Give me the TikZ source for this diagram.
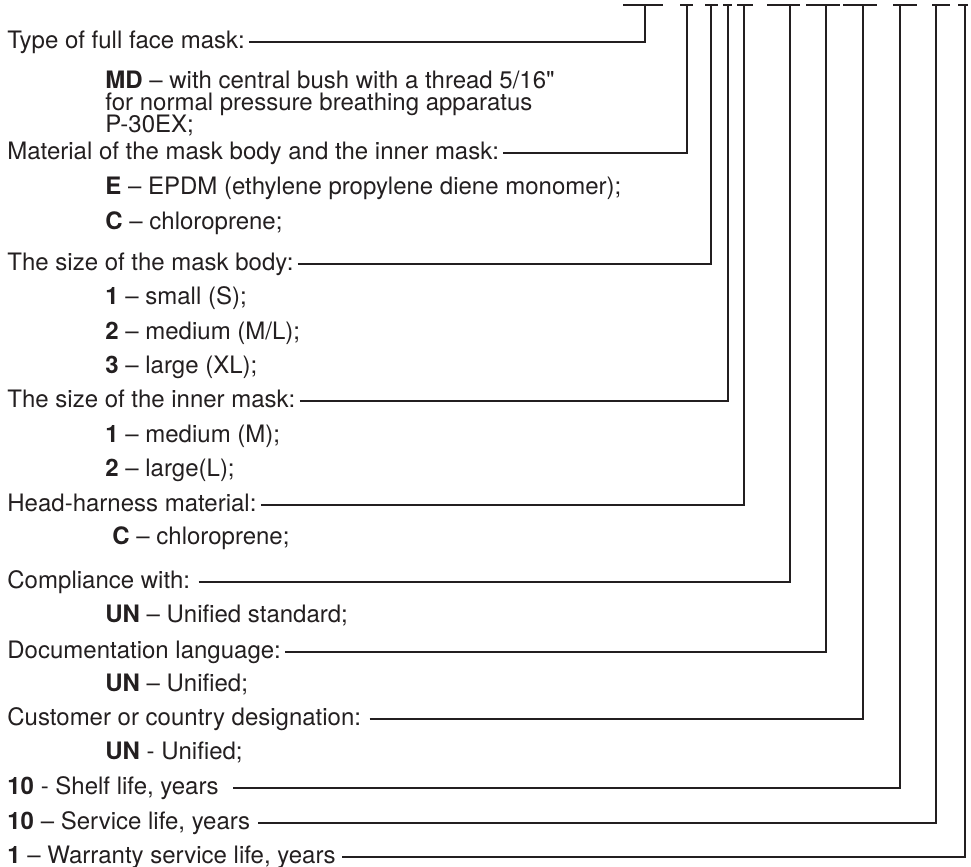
\documentclass[tikz,border=0pt]{standalone}
\usepackage{fontspec}
\newfontfamily\helv{TeX Gyre Heros}

\definecolor{ink}{HTML}{231F20}

\begin{document}
\begin{tikzpicture}[x=0.5pt,y=-0.5pt,
  lbl/.style={anchor=west,inner sep=0pt,text height=6pt,text depth=0pt,text=ink,font=\helv\fontsize{12}{12}\selectfont},
  wire/.style={draw=ink,line width=0.9pt,shorten <=2pt}]
\useasboundingbox (0,0) rectangle (971,867);

\node[lbl](type) at (7,42){Type of full face mask:};
\node[lbl](md1) at (105,82){\bfseries MD\mdseries{} – with central bush with a thread 5/16"};
\node[lbl](md2) at (105,104){for normal pressure breathing apparatus};
\node[lbl](md3) at (105,126){P-30EX;};
\node[lbl](mat) at (7,153){Material of the mask body and the inner mask:};
\node[lbl](matE) at (105,188){\bfseries E\mdseries{} – EPDM (ethylene propylene diene monomer);};
\node[lbl](matC) at (105,223){\bfseries C\mdseries{} – chloroprene;};
\node[lbl](body) at (7,264){The size of the mask body:};
\node[lbl](body1) at (105,298){\bfseries 1\mdseries{} – small (S);};
\node[lbl](body2) at (105,333){\bfseries 2\mdseries{} – medium (M/L);};
\node[lbl](body3) at (105,367){\bfseries 3\mdseries{} – large (XL);};
\node[lbl](inner) at (7,401){The size of the inner mask:};
\node[lbl](inner1) at (105,436){\bfseries 1\mdseries{} – medium (M);};
\node[lbl](inner2) at (105,470){\bfseries 2\mdseries{} – large(L);};
\node[lbl](head) at (7,505){Head-harness material:};
\node[lbl](headC) at (112,538){\bfseries C\mdseries{} – chloroprene;};
\node[lbl](comp) at (7,582){Compliance with:};
\node[lbl](compUN) at (105,616){\bfseries UN\mdseries{} – Unified standard;};
\node[lbl](doc) at (7,652){Documentation language:};
\node[lbl](docUN) at (105,685){\bfseries UN\mdseries{} – Unified;};
\node[lbl](cust) at (7,719){Customer or country designation:};
\node[lbl](custUN) at (105,753){\bfseries UN\mdseries{} - Unified;};
\node[lbl](shelf) at (7,788){\bfseries 10\mdseries{} - Shelf life, years};
\node[lbl](serv) at (7,823){\bfseries 10\mdseries{} – Service life, years};
\node[lbl](warr) at (7,857){\bfseries 1\mdseries{} – Warranty service life, years};

\coordinate (t1) at (645,5);
\coordinate (t2) at (687,5);
\coordinate (t3) at (711,5);
\coordinate (t4) at (728,5);
\coordinate (t5) at (744,5);
\coordinate (t6) at (790,5);
\coordinate (t7) at (826,5);
\coordinate (t8) at (863,5);
\coordinate (t9) at (900,5);
\coordinate (t10) at (936,5);
\coordinate (t11) at (965,5);

\draw[wire] (type.east) -| (t1);
\draw[wire] (mat.east) -| (t2);
\draw[wire] (body.east) -| (t3);
\draw[wire] (inner.east) -| (t4);
\draw[wire] (head.east) -| (t5);
\draw[wire, shorten <=4pt] (comp.east) -| (t6);
\draw[wire] (doc.east) -| (t7);
\draw[wire, shorten <=4pt] (cust.east) -| (t8);
\draw[wire, shorten <=7pt] (shelf.east) -| (t9);
\draw[wire, shorten <=4pt] (serv.east) -| (t10);
\draw[wire, shorten <=3pt] (warr.east) -| (t11);

\draw[wire, shorten <=0pt] (623,5) -- (663,5);
\draw[wire, shorten <=0pt] (680,5) -- (693,5);
\draw[wire, shorten <=0pt] (705,5) -- (718,5);
\draw[wire, shorten <=0pt] (723,5) -- (732,5);
\draw[wire, shorten <=0pt] (737,5) -- (753,5);
\draw[wire, shorten <=0pt] (767,5) -- (800,5);
\draw[wire, shorten <=0pt] (806,5) -- (840,5);
\draw[wire, shorten <=0pt] (843,5) -- (877,5);
\draw[wire, shorten <=0pt] (893,5) -- (917,5);
\draw[wire, shorten <=0pt] (932,5) -- (950,5);
\draw[wire, shorten <=0pt] (958,5) -- (968,5);
\end{tikzpicture}
\end{document}
